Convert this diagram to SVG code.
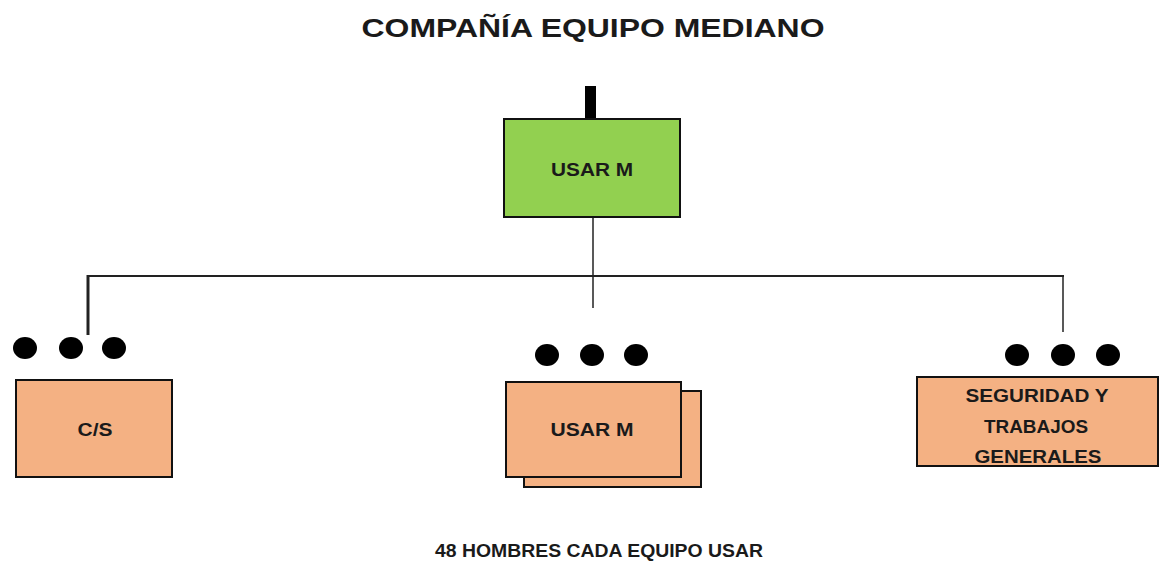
<svg xmlns="http://www.w3.org/2000/svg" width="1164" height="563" viewBox="0 0 1164 563">
<style>
.t{font-family:"Liberation Sans",Arial,sans-serif;font-weight:bold;fill:#1a1a1a;text-anchor:middle}
.box{stroke:#111;stroke-width:2}
.org{fill:#F4B183}
.grn{fill:#92D050}
.ln{stroke:#222;fill:none}
.dot{fill:#000}
</style>
<rect width="1164" height="563" fill="#fff"/>
<text class="t" x="593" y="37" font-size="26" textLength="463" lengthAdjust="spacingAndGlyphs">COMPAÑÍA EQUIPO MEDIANO</text>
<g id="connectors">
<rect x="585" y="86" width="11" height="34" fill="#000"/>
<line class="ln" x1="593" y1="217" x2="593" y2="308" stroke-width="1.5"/>
<line class="ln" x1="87" y1="276" x2="1064" y2="276" stroke-width="2"/>
<line class="ln" x1="88" y1="275" x2="88" y2="335" stroke-width="3"/>
<line class="ln" x1="1063" y1="276" x2="1063" y2="332" stroke-width="1.5"/>
</g>
<g id="node-usar-top">
<rect class="box grn" x="504" y="119" width="176" height="98"/>
<text class="t" x="592" y="176" font-size="18" textLength="82" lengthAdjust="spacingAndGlyphs">USAR M</text>
</g>
<g id="node-cs">
<ellipse class="dot" cx="25" cy="348" rx="12" ry="11"/>
<ellipse class="dot" cx="71" cy="348" rx="12" ry="11"/>
<ellipse class="dot" cx="114" cy="348" rx="12" ry="11"/>
<rect class="box org" x="16" y="380" width="156" height="97"/>
<text class="t" x="95" y="436" font-size="18" textLength="35" lengthAdjust="spacingAndGlyphs">C/S</text>
</g>
<g id="node-usar-m">
<ellipse class="dot" cx="547" cy="355" rx="12" ry="11"/>
<ellipse class="dot" cx="592" cy="355" rx="12" ry="11"/>
<ellipse class="dot" cx="636" cy="355" rx="12" ry="11"/>
<rect class="box org" x="524" y="391" width="177" height="96"/>
<rect class="box org" x="506" y="382" width="175" height="95"/>
<text class="t" x="592" y="436" font-size="18" textLength="83" lengthAdjust="spacingAndGlyphs">USAR M</text>
</g>
<g id="node-seguridad">
<ellipse class="dot" cx="1017" cy="355" rx="12" ry="11"/>
<ellipse class="dot" cx="1063" cy="355" rx="12" ry="11"/>
<ellipse class="dot" cx="1108" cy="355" rx="12" ry="11"/>
<rect class="box org" x="917" y="377" width="241" height="89"/>
<text class="t" x="1037" y="402" font-size="18" textLength="143" lengthAdjust="spacingAndGlyphs">SEGURIDAD Y</text>
<text class="t" x="1036" y="433" font-size="18" textLength="104" lengthAdjust="spacingAndGlyphs">TRABAJOS</text>
<text class="t" x="1038" y="463" font-size="18" textLength="127" lengthAdjust="spacingAndGlyphs">GENERALES</text>
</g>
<text class="t" x="599" y="557" font-size="18" textLength="328" lengthAdjust="spacingAndGlyphs">48 HOMBRES CADA EQUIPO USAR</text>
</svg>
